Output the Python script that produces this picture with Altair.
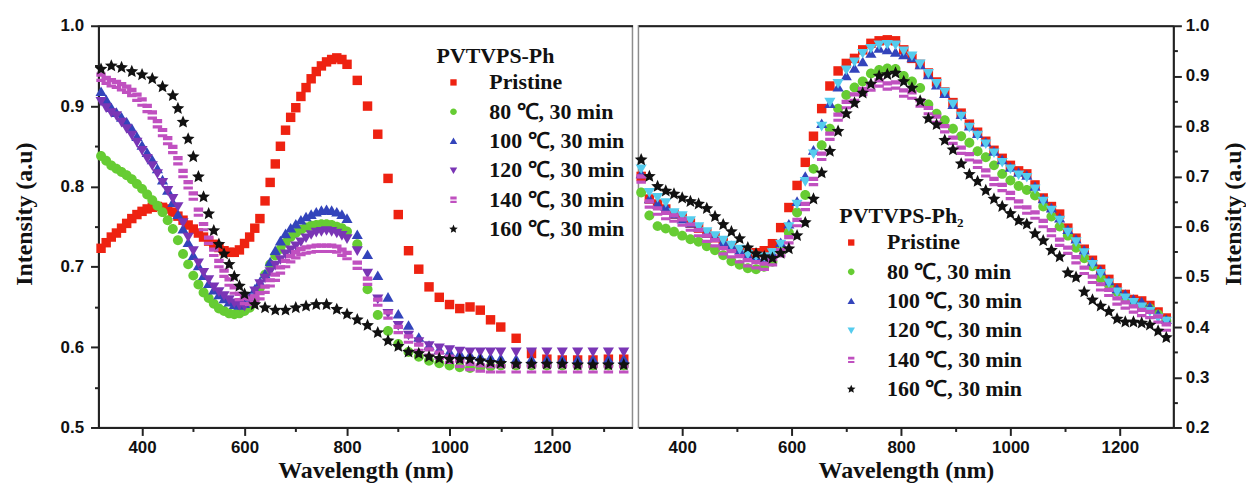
import altair as alt
import pandas as pd

SERIES = ["Pristine", "80 ℃, 30 min", "100 ℃, 30 min", "120 ℃, 30 min",
          "140 ℃, 30 min", "160 ℃, 30 min"]

# ---------------- left panel: PVTVPS-Ph ----------------
L_WL = [320, 330, 340, 350, 360, 370, 380, 390, 400, 410,
        420, 430, 440, 450, 460, 470, 480, 490, 500, 510,
        520, 530, 540, 550, 560, 570, 580, 590, 600, 610,
        620, 630, 640, 650, 660, 670, 680, 690, 700, 710,
        720, 730, 740, 750, 760, 770, 780, 790, 800,
        820, 840, 860, 880, 900, 920, 940, 960, 980, 1000, 1020, 1040, 1060, 1080, 1100,
        1130, 1160, 1190, 1220, 1250, 1280, 1310, 1340]
# the 160 ℃ curve is sampled more sparsely in the figure
L_WL_STAR = [320, 340, 360, 380, 400, 420, 440, 460, 470, 480,
             490, 500, 510, 520, 530, 540, 550, 560, 570, 580,
             590, 600, 620, 640, 660, 680, 700, 720, 740, 760, 780, 800,
             820, 840, 860, 880, 900, 920, 940, 960, 980, 1000, 1020, 1040, 1060, 1080, 1100,
             1130, 1160, 1190, 1220, 1250, 1280, 1310, 1340]

L_PRISTINE = [0.723, 0.730, 0.737, 0.742, 0.748, 0.754, 0.760, 0.765, 0.769, 0.772,
              0.774, 0.775, 0.774, 0.772, 0.768, 0.763, 0.758, 0.752, 0.747, 0.742,
              0.737, 0.732, 0.728, 0.724, 0.720, 0.718, 0.718, 0.721, 0.729, 0.737,
              0.748, 0.760, 0.782, 0.805, 0.828, 0.850, 0.870, 0.886, 0.898, 0.912,
              0.923, 0.934, 0.943, 0.950, 0.955, 0.958, 0.960, 0.958, 0.952,
              0.932, 0.900, 0.865, 0.810, 0.765, 0.720, 0.697, 0.675, 0.662, 0.653, 0.648, 0.650, 0.646, 0.634, 0.625,
              0.611, 0.592, 0.585, 0.584, 0.584, 0.584, 0.585, 0.585]
L_80C = [0.838, 0.832, 0.826, 0.822, 0.818, 0.814, 0.809, 0.803, 0.797, 0.790,
         0.783, 0.776, 0.768, 0.758, 0.747, 0.733, 0.716, 0.703, 0.689, 0.678,
         0.668, 0.661, 0.654, 0.648, 0.645, 0.642, 0.641, 0.642, 0.645, 0.649,
         0.660, 0.674, 0.690, 0.703, 0.714, 0.722, 0.730, 0.737, 0.742, 0.746,
         0.749, 0.751, 0.752, 0.753, 0.753, 0.752, 0.750, 0.748, 0.744,
         0.728, 0.672, 0.640, 0.620, 0.604, 0.594, 0.588, 0.583, 0.580, 0.577, 0.575, 0.574, 0.575, 0.576, 0.577,
         0.577, 0.577, 0.577, 0.577, 0.577, 0.577, 0.577, 0.577]
L_100C = [0.918, 0.908, 0.898, 0.892, 0.886, 0.880, 0.872, 0.862, 0.851, 0.842,
          0.833, 0.822, 0.808, 0.795, 0.780, 0.765, 0.747, 0.730, 0.714, 0.701,
          0.689, 0.679, 0.671, 0.665, 0.660, 0.656, 0.653, 0.652, 0.654, 0.662,
          0.672, 0.681, 0.691, 0.706, 0.720, 0.732, 0.741, 0.748, 0.753, 0.758,
          0.762, 0.765, 0.768, 0.770, 0.771, 0.770, 0.768, 0.765, 0.760,
          0.740, 0.715, 0.689, 0.662, 0.641, 0.627, 0.612, 0.602, 0.597, 0.594, 0.592, 0.590, 0.588, 0.587, 0.586,
          0.585, 0.585, 0.585, 0.585, 0.585, 0.585, 0.585, 0.585]
L_120C = [0.906, 0.898, 0.892, 0.888, 0.880, 0.872, 0.864, 0.855, 0.845, 0.835,
          0.826, 0.816, 0.805, 0.795, 0.785, 0.775, 0.755, 0.737, 0.720, 0.705,
          0.693, 0.684, 0.675, 0.669, 0.664, 0.659, 0.655, 0.652, 0.651, 0.660,
          0.670, 0.679, 0.686, 0.694, 0.702, 0.709, 0.716, 0.721, 0.726, 0.731,
          0.736, 0.740, 0.743, 0.744, 0.745, 0.744, 0.742, 0.739, 0.735,
          0.720, 0.692, 0.660, 0.642, 0.627, 0.615, 0.607, 0.602, 0.599, 0.597, 0.595, 0.594, 0.594, 0.594, 0.594,
          0.594, 0.594, 0.594, 0.594, 0.594, 0.594, 0.594, 0.594]
L_140C = [0.936, 0.932, 0.929, 0.927, 0.924, 0.921, 0.917, 0.911, 0.905, 0.897,
          0.889, 0.878, 0.867, 0.857, 0.846, 0.832, 0.816, 0.802, 0.788, 0.768,
          0.750, 0.733, 0.718, 0.704, 0.692, 0.681, 0.671, 0.663, 0.658, 0.657,
          0.660, 0.664, 0.672, 0.680, 0.687, 0.696, 0.704, 0.710, 0.715, 0.719,
          0.721, 0.722, 0.723, 0.723, 0.723, 0.723, 0.722, 0.718, 0.714,
          0.702, 0.682, 0.656, 0.640, 0.622, 0.610, 0.600, 0.594, 0.590, 0.585, 0.580, 0.576, 0.574, 0.573, 0.573,
          0.573, 0.573, 0.573, 0.573, 0.573, 0.573, 0.573, 0.573]
L_160C = [0.946, 0.950, 0.948, 0.943, 0.939, 0.934, 0.924, 0.913, 0.897, 0.880,
          0.859, 0.837, 0.812, 0.787, 0.766, 0.745, 0.728, 0.716, 0.703, 0.688,
          0.676, 0.666, 0.653, 0.649, 0.646, 0.646, 0.649, 0.651, 0.653, 0.653, 0.647, 0.641,
          0.634, 0.627, 0.618, 0.608, 0.601, 0.594, 0.592, 0.588, 0.586, 0.585, 0.585, 0.585, 0.583, 0.581, 0.580,
          0.579, 0.579, 0.579, 0.579, 0.578, 0.578, 0.578, 0.578]

# ---------------- right panel: PVTVPS-Ph2 ----------------
R_WL = [325, 340, 355, 370, 385, 400, 415, 430, 445, 460,
        475, 490, 505, 520, 535, 550, 565, 580, 595, 610,
        625, 640, 655, 670, 685, 700, 715, 730, 745, 760,
        775, 790, 805, 820, 835, 850, 865, 880, 895, 910,
        925, 940, 955, 970, 985, 1000, 1015, 1030, 1045, 1060,
        1075, 1090, 1105, 1120, 1135, 1150, 1165, 1180, 1195, 1210,
        1225, 1240, 1255, 1270, 1285]

R_PRISTINE = [0.700, 0.655, 0.645, 0.635, 0.625, 0.617, 0.607, 0.597, 0.587, 0.578,
              0.570, 0.560, 0.552, 0.545, 0.548, 0.552, 0.566, 0.598, 0.638, 0.682,
              0.728, 0.780, 0.835, 0.880, 0.910, 0.925, 0.935, 0.952, 0.965, 0.970,
              0.972, 0.970, 0.952, 0.935, 0.923, 0.906, 0.888, 0.868, 0.847, 0.826,
              0.804, 0.788, 0.770, 0.752, 0.736, 0.722, 0.711, 0.705, 0.683, 0.657,
              0.640, 0.625, 0.597, 0.577, 0.555, 0.533, 0.515, 0.495, 0.478, 0.465,
              0.455, 0.452, 0.443, 0.430, 0.418]
R_80C = [0.668, 0.622, 0.601, 0.596, 0.590, 0.582, 0.575, 0.570, 0.561, 0.553,
         0.543, 0.531, 0.524, 0.517, 0.515, 0.520, 0.530, 0.552, 0.588, 0.628,
         0.663, 0.715, 0.762, 0.795, 0.835, 0.862, 0.877, 0.889, 0.905, 0.912,
         0.915, 0.914, 0.900, 0.889, 0.876, 0.843, 0.825, 0.812, 0.795, 0.780,
         0.767, 0.750, 0.738, 0.722, 0.705, 0.692, 0.681, 0.673, 0.662, 0.640,
         0.620, 0.600, 0.582, 0.558, 0.537, 0.521, 0.497, 0.484, 0.470, 0.458,
         0.449, 0.442, 0.437, 0.425, 0.412]
R_100C = [0.705, 0.655, 0.645, 0.640, 0.625, 0.615, 0.607, 0.598, 0.587, 0.578,
          0.570, 0.562, 0.553, 0.543, 0.538, 0.538, 0.546, 0.568, 0.605, 0.650,
          0.700, 0.752, 0.805, 0.845, 0.878, 0.900, 0.915, 0.928, 0.945, 0.955,
          0.952, 0.947, 0.942, 0.936, 0.922, 0.902, 0.882, 0.865, 0.843, 0.823,
          0.800, 0.785, 0.768, 0.750, 0.733, 0.718, 0.708, 0.702, 0.680, 0.655,
          0.637, 0.617, 0.594, 0.575, 0.553, 0.530, 0.512, 0.492, 0.476, 0.465,
          0.455, 0.450, 0.440, 0.425, 0.415]
R_120C = [0.715, 0.668, 0.658, 0.648, 0.628, 0.622, 0.612, 0.600, 0.590, 0.582,
          0.573, 0.563, 0.555, 0.545, 0.541, 0.540, 0.548, 0.565, 0.600, 0.645,
          0.690, 0.745, 0.800, 0.848, 0.885, 0.912, 0.928, 0.945, 0.955, 0.962,
          0.963, 0.962, 0.950, 0.940, 0.924, 0.905, 0.885, 0.868, 0.844, 0.820,
          0.798, 0.782, 0.765, 0.747, 0.728, 0.715, 0.703, 0.698, 0.675, 0.651,
          0.633, 0.613, 0.589, 0.570, 0.548, 0.525, 0.507, 0.488, 0.470, 0.458,
          0.449, 0.440, 0.431, 0.418, 0.412]
R_140C = [0.695, 0.645, 0.631, 0.622, 0.617, 0.609, 0.599, 0.588, 0.577, 0.568,
          0.552, 0.546, 0.536, 0.528, 0.524, 0.521, 0.530, 0.548, 0.574, 0.608,
          0.640, 0.690, 0.740, 0.780, 0.818, 0.843, 0.858, 0.869, 0.878, 0.886,
          0.880, 0.882, 0.866, 0.862, 0.846, 0.831, 0.814, 0.795, 0.772, 0.752,
          0.739, 0.724, 0.707, 0.690, 0.678, 0.662, 0.645, 0.633, 0.623, 0.606,
          0.588, 0.569, 0.553, 0.534, 0.513, 0.495, 0.480, 0.469, 0.452, 0.444,
          0.436, 0.429, 0.425, 0.416, 0.400]
R_160C = [0.733, 0.700, 0.680, 0.671, 0.665, 0.657, 0.650, 0.645, 0.636, 0.620,
          0.604, 0.590, 0.576, 0.558, 0.546, 0.540, 0.537, 0.547, 0.556, 0.582,
          0.608, 0.655, 0.707, 0.750, 0.790, 0.825, 0.846, 0.866, 0.884, 0.900,
          0.903, 0.906, 0.889, 0.876, 0.850, 0.815, 0.803, 0.772, 0.753, 0.725,
          0.704, 0.690, 0.672, 0.655, 0.640, 0.626, 0.612, 0.605, 0.586, 0.572,
          0.553, 0.540, 0.508, 0.499, 0.470, 0.454, 0.442, 0.431, 0.416, 0.410,
          0.410, 0.408, 0.404, 0.392, 0.379]

# ---------------- marker styles (unit paths, drawn at one mark size) ----------------
SQUARE = "M-0.95,-0.95H0.95V0.95H-0.95Z"
CIRCLE = "M1,0A1,1,0,1,1,-1,0A1,1,0,1,1,1,0Z"
TRI_UP = "M0,-1.05L1.12,0.88L-1.12,0.88Z"
TRI_DOWN = "M0,1.05L1.12,-0.88L-1.12,-0.88Z"
STRIPED = "M-0.95,-0.95H0.95V-0.1H-0.95Z M-0.95,0.32H0.95V0.95H-0.95Z"
STAR = ("M0,-1.35L0.364,-0.502L1.284,-0.417L0.59,0.192L0.794,1.092L0,0.62"
        "L-0.794,1.092L-0.59,0.192L-1.284,-0.417L-0.364,-0.502Z")
SHAPES = [SQUARE, CIRCLE, TRI_UP, TRI_DOWN, STRIPED, STAR]
L_COLORS = ["#ee2211", "#66cc33", "#3344bb", "#7a35b5", "#c050c0", "#111111"]
R_COLORS = ["#ee2211", "#66cc33", "#3344bb", "#55ccee", "#c050c0", "#111111"]

X_MAJOR = [400, 600, 800, 1000, 1200]
L_X_MINOR = [500, 700, 900, 1100, 1300]
R_X_MINOR = [500, 700, 900, 1100]
L_Y_MAJOR = [0.5, 0.6, 0.7, 0.8, 0.9, 1.0]
L_Y_MINOR = [0.55, 0.65, 0.75, 0.85, 0.95]
R_Y_MAJOR = [0.2, 0.3, 0.4, 0.5, 0.6, 0.7, 0.8, 0.9, 1.0]
R_Y_MINOR = [0.25, 0.35, 0.45, 0.55, 0.65, 0.75, 0.85, 0.95]

PLOT_H = 404


def long_frame(pairs):
    rows = []
    for name, (wl, vals) in zip(SERIES, pairs):
        assert len(vals) == len(wl), (name, len(vals), len(wl))
        for w, v in zip(wl, vals):
            rows.append({"wl": w, "val": v, "series": name})
    return pd.DataFrame(rows)


def panel(df, colors, xdom, ydom, yminor, xminor, yaxis, legend, width):
    base = alt.Chart(df)
    pts = base.mark_point(filled=True, opacity=1, strokeWidth=0, size=100).encode(
        x=alt.X("wl:Q", scale=alt.Scale(domain=xdom, nice=False, zero=False),
                axis=alt.Axis(orient="bottom", values=X_MAJOR, format="d", tickSize=8,
                              labelPadding=4, title="Wavelength (nm)", titlePadding=3,
                              labelFlush=False)),
        y=alt.Y("val:Q", scale=alt.Scale(domain=ydom, nice=False, zero=False), axis=yaxis),
        color=alt.Color("series:N", scale=alt.Scale(domain=SERIES, range=colors), legend=legend),
        shape=alt.Shape("series:N", scale=alt.Scale(domain=SERIES, range=SHAPES), legend=legend),
    )
    minor = base.mark_point(opacity=0).encode(
        x=alt.X("wl:Q", axis=alt.Axis(orient="bottom", values=xminor, labels=False, tickSize=4,
                                      domain=False, title=None)),
        y=alt.Y("val:Q", axis=alt.Axis(orient=yaxis.orient, values=yminor, labels=False,
                                       tickSize=4, domain=False, title=None)),
    )
    top = base.mark_point(opacity=0).encode(
        x=alt.X("wl:Q", axis=alt.Axis(orient="top", labels=False, ticks=False, domain=True,
                                      title=None)),
    )
    return (alt.layer(pts, minor, top)
            .resolve_axis(x="independent", y="independent")
            .properties(width=width, height=PLOT_H))


left_df = long_frame([(L_WL, L_PRISTINE), (L_WL, L_80C), (L_WL, L_100C), (L_WL, L_120C),
                      (L_WL, L_140C), (L_WL_STAR, L_160C)])
right_df = long_frame([(R_WL, R_PRISTINE), (R_WL, R_80C), (R_WL, R_100C), (R_WL, R_120C),
                       (R_WL, R_140C), (R_WL, R_160C)])

left_y = alt.Axis(orient="left", values=L_Y_MAJOR, format=".1f", tickSize=8, labelPadding=7,
                  title="Intensity (a.u)", titlePadding=24, titleY=189)
right_y = alt.Axis(orient="right", values=R_Y_MAJOR, format=".1f", tickSize=8, labelPadding=4,
                   title="Intensity (a.u)", titlePadding=12.5, titleY=189, titleAngle=270,
                   titleBaseline="top")

left_legend = alt.Legend(title="PVTVPS-Ph", orient="none", legendX=340, legendY=20, symbolOffset=6)
right_legend = alt.Legend(title="PVTVPS-Ph₂", orient="none", legendX=202, legendY=181, symbolOffset=1)

left = panel(left_df, L_COLORS, [315, 1357], [0.5, 1.0], L_Y_MINOR, L_X_MINOR,
             left_y, left_legend, 537)
right = panel(right_df, R_COLORS, [320, 1298], [0.2, 1.0], R_Y_MINOR, R_X_MINOR,
              right_y, right_legend, 538)

chart = (
    alt.hconcat(left, right, spacing=0)
    .resolve_scale(color="independent", shape="independent")
    .properties(padding={"left": 3, "top": 6.5, "right": 0, "bottom": 0}, background="white")
    .configure_view(stroke="#8c8c8c", strokeWidth=1.5)
    .configure_axis(domainColor="#222222", domainWidth=2, tickColor="#222222", tickWidth=2,
                    grid=False, labelFont="Liberation Sans", labelFontWeight="bold",
                    labelFontSize=17, labelColor="#111111", titleFont="Liberation Serif",
                    titleFontWeight="bold", titleFontSize=24, titleColor="#111111")
    .configure_legend(titleFont="Liberation Serif", titleFontWeight="bold", titleFontSize=22,
                      titleColor="#111111", labelFont="Liberation Serif", labelFontWeight="bold",
                      labelFontSize=22, labelColor="#111111", symbolSize=45, symbolStrokeWidth=0,
                      rowPadding=7.5, titlePadding=4, labelOffset=25, padding=0, labelLimit=300)
)

chart.save("out.html", embed_options={"renderer": "svg", "actions": False})
